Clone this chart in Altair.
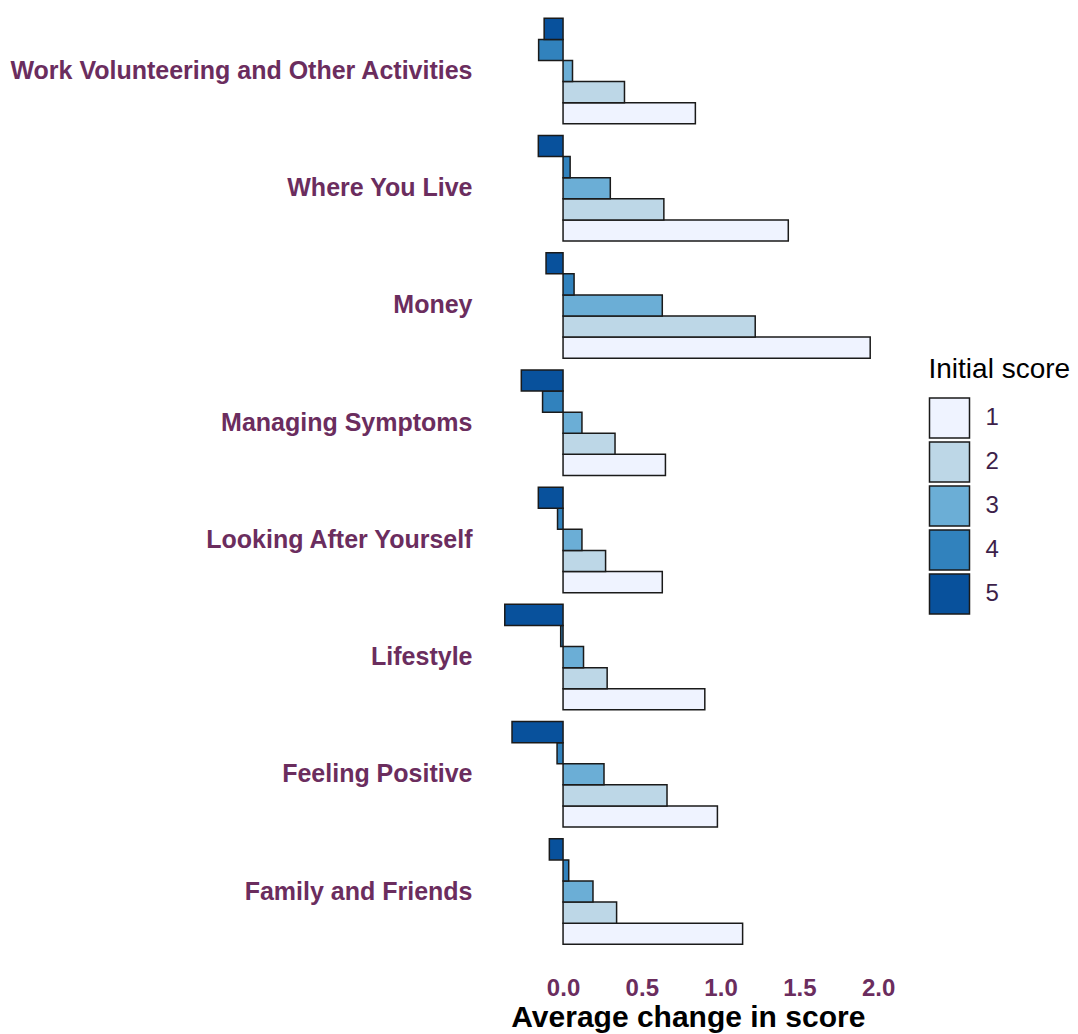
import altair as alt
import pandas as pd

categories = [
    "Work Volunteering and Other Activities",
    "Where You Live",
    "Money",
    "Managing Symptoms",
    "Looking After Yourself",
    "Lifestyle",
    "Feeling Positive",
    "Family and Friends",
]
scores = ["1", "2", "3", "4", "5"]
# values per category for initial scores 1..5
score1 = [0.84, 1.43, 1.95, 0.65, 0.63, 0.90, 0.98, 1.14]
score2 = [0.39, 0.64, 1.22, 0.33, 0.27, 0.28, 0.66, 0.34]
score3 = [0.06, 0.30, 0.63, 0.12, 0.12, 0.13, 0.26, 0.19]
score4 = [-0.155, 0.045, 0.07, -0.13, -0.035, -0.015, -0.038, 0.036]
score5 = [-0.12, -0.157, -0.108, -0.265, -0.157, -0.37, -0.324, -0.087]
colors = ["#eff3ff", "#bdd7e7", "#6baed6", "#3182bd", "#08519c"]

rows = []
for s, vals in zip(scores, [score1, score2, score3, score4, score5]):
    for c, v in zip(categories, vals):
        rows.append({"category": c, "score": s, "value": v})
df = pd.DataFrame(rows)

purple = "#6B2D5E"

chart = alt.Chart(df).mark_bar(stroke="#1a1a1a", strokeWidth=1.5).encode(
    y=alt.Y(
        "category:N",
        sort=categories,
        scale=alt.Scale(paddingInner=0.1, paddingOuter=0.1152, align=0.381),
        axis=alt.Axis(
            title=None, ticks=False, domain=False, labelFontSize=25,
            labelFontWeight="bold", labelColor=purple, labelFont="Liberation Sans",
            labelPadding=14.5, labelLimit=1000,
        ),
    ),
    yOffset=alt.YOffset(
        "score:N",
        sort=["5", "4", "3", "2", "1"],
        scale=alt.Scale(paddingInner=0, paddingOuter=0),
    ),
    x=alt.X(
        "value:Q",
        scale=alt.Scale(domain=[-0.486, 2.07], nice=False, zero=False),
        axis=alt.Axis(
            title="Average change in score", values=[0, 0.5, 1.0, 1.5, 2.0],
            format=".1f", ticks=False, domain=False, grid=False,
            labelFontSize=24, labelFontWeight="bold", labelColor=purple,
            labelFont="Liberation Sans", labelPadding=15,
            titleFontSize=30, titleFontWeight="bold", titleColor="black",
            titleFont="Liberation Sans", titlePadding=2,
        ),
    ),
    fill=alt.Fill(
        "score:N",
        scale=alt.Scale(domain=scores, range=colors),
        legend=alt.Legend(
            title="Initial score", orient="none", legendX=442, legendY=348,
            titleFontSize=28, titleFontWeight="normal", titleColor="black",
            titleFont="Liberation Sans", titlePadding=13,
            labelFontSize=24, labelColor="#3d1f4a", labelFont="Liberation Sans",
            labelOffset=15, symbolType="square", symbolSize=1600,
            symbolStrokeColor="#1a1a1a", symbolStrokeWidth=1.5,
            rowPadding=-4.8, symbolOpacity=1,
        ),
    ),
).properties(
    width=402.6, height=953,
    autosize=alt.AutoSizeParams(type="none"),
    padding={"left": 478.5, "top": 0, "right": 180.9, "bottom": 80},
).configure(background="white").configure_view(strokeWidth=0, stroke=None)

chart.save("out.html", embed_options={"renderer": "svg", "actions": False})
